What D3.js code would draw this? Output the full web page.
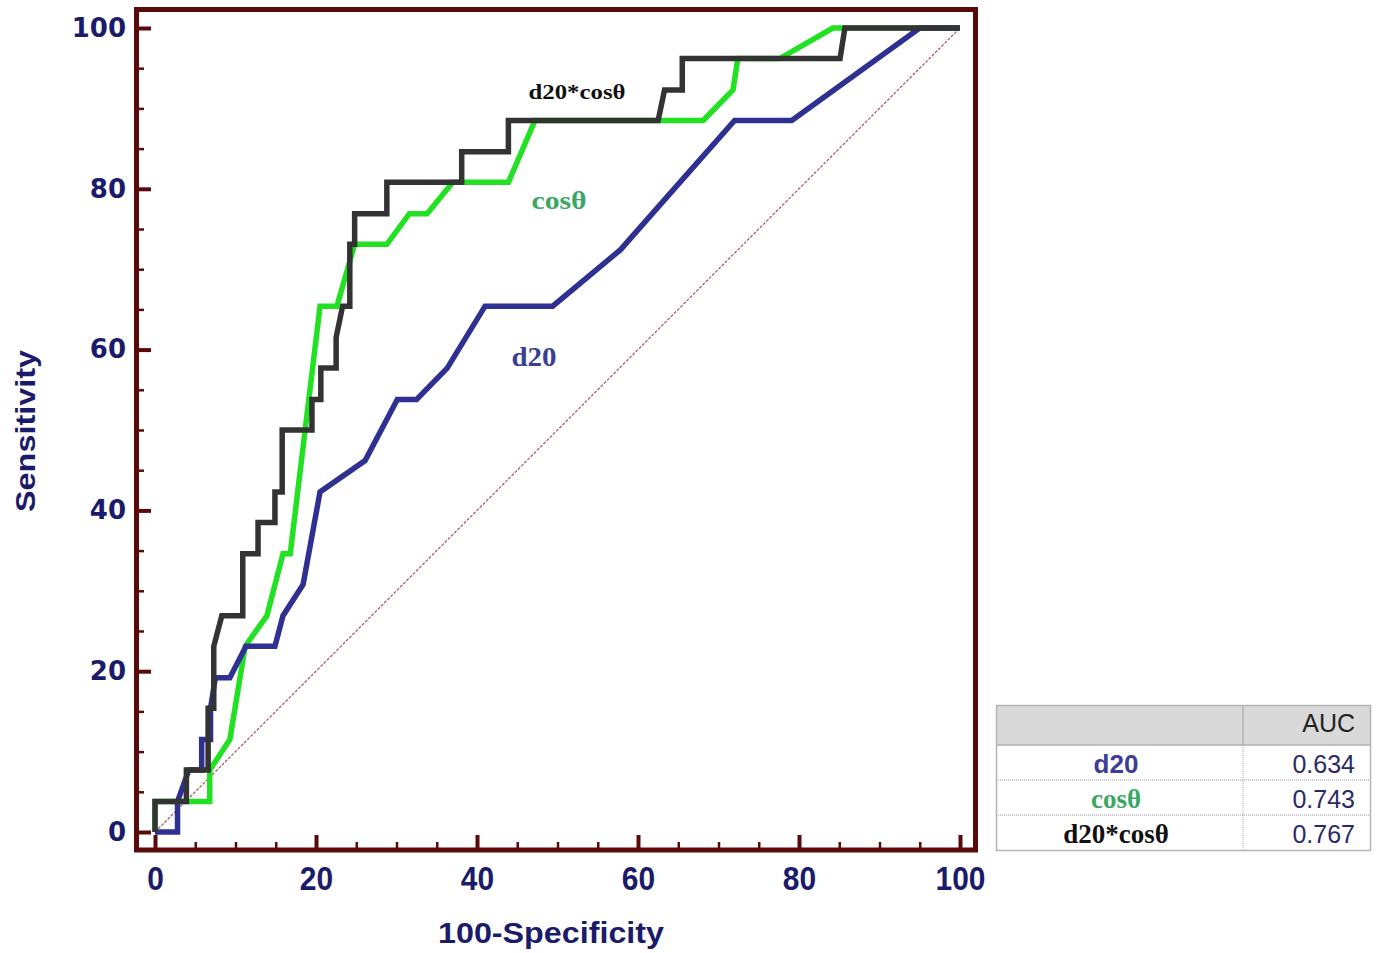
<!DOCTYPE html>
<html>
<head>
<meta charset="utf-8">
<script src="https://cdn.jsdelivr.net/npm/d3@7"></script>
<style>
  body { margin: 0; background: #fff; }
  svg { display: block; }
</style>
</head>
<body>
<svg id="chart" width="1377" height="953"></svg>
<script>
// ---- data ----
const d20Fpr = [0, 2.8, 2.8, 4.2, 5.8, 5.8, 6.9, 6.9, 7.5, 9.3, 11.3, 14.9, 15.9, 18.4, 20.5, 26.1, 30.1, 32.5, 36.3, 41, 49.4, 57.8, 65.2, 72, 79.1, 95, 100];
const d20Tpr = [0, 0, 3.8, 7.7, 7.7, 11.5, 11.5, 15.4, 19.2, 19.2, 23.1, 23.1, 26.9, 30.8, 42.3, 46.2, 53.8, 53.8, 57.7, 65.4, 65.4, 72.4, 80.8, 88.5, 88.5, 100, 100];

const cosFpr = [0, 0, 6.8, 6.8, 9.3, 11.2, 13.9, 15.9, 16.8, 20.5, 22.6, 24.8, 28.8, 31.6, 33.8, 37, 43.9, 47.2, 68.1, 71.8, 72.4, 77.6, 84.2, 100];
const cosTpr = [0, 3.8, 3.8, 7.7, 11.5, 23.1, 26.9, 34.6, 34.6, 65.4, 65.4, 73.1, 73.1, 76.9, 76.9, 80.8, 80.8, 88.5, 88.5, 92.3, 96.2, 96.2, 100, 100];

const prodFpr = [0, 0, 3.9, 3.9, 6.6, 6.6, 7.3, 7.3, 8.3, 10.9, 10.9, 12.8, 12.8, 14.9, 14.9, 15.8, 15.8, 19.5, 19.5, 20.6, 20.6, 22.5, 22.5, 23.3, 24.2, 24.2, 24.8, 24.8, 28.8, 28.8, 38.1, 38.1, 43.9, 43.9, 62.5, 63.3, 65.5, 65.5, 85.1, 85.7, 100];
const prodTpr = [0, 3.8, 3.8, 7.7, 7.7, 15.4, 15.4, 23.1, 26.9, 26.9, 34.6, 34.6, 38.5, 38.5, 42.3, 42.3, 50, 50, 53.8, 53.8, 57.7, 57.7, 61.5, 65.4, 65.4, 73.1, 73.1, 76.9, 76.9, 80.8, 80.8, 84.6, 84.6, 88.5, 88.5, 92.3, 92.3, 96.2, 96.2, 100, 100];

const majorTicks = [0, 20, 40, 60, 80, 100];
const minorTicks = d3.range(0, 101, 5);

const tableNames = ["d20", "cosθ", "d20*cosθ"];
const tableAuc = ["0.634", "0.743", "0.767"];

// ---- look ----
const frameCol = "#5a0a0a";
const navy = "#1b1b6b";
const serif = "'Liberation Serif', 'Times New Roman', serif";
const sans = "'Liberation Sans', Arial, sans-serif";

const svg = d3.select("#chart");

const x = d3.scaleLinear().domain([0, 100]).range([155, 960]);
const y = d3.scaleLinear().domain([0, 100]).range([832, 28]);

// frame
svg.append("rect")
  .attr("x", 136.5).attr("y", 9.5)
  .attr("width", 839).attr("height", 840.5)
  .attr("fill", "#fff")
  .attr("stroke", frameCol)
  .attr("stroke-width", 5);

// minor ticks
const yMinor = svg.append("g").attr("transform", "translate(138,0)")
  .call(d3.axisLeft(y).tickValues(minorTicks).tickSize(-6).tickFormat(""));
const xMinor = svg.append("g").attr("transform", "translate(0,848)")
  .call(d3.axisBottom(x).tickValues(minorTicks).tickSize(-6).tickFormat(""));
[yMinor, xMinor].forEach(g => {
  g.select(".domain").remove();
  g.selectAll("line").attr("stroke", frameCol).attr("stroke-width", 2.5);
});

// major ticks + labels
const yAxis = svg.append("g").attr("transform", "translate(138,0)")
  .call(d3.axisLeft(y).tickValues(majorTicks).tickSize(-13).tickPadding(12));
const xAxis = svg.append("g").attr("transform", "translate(0,848)")
  .call(d3.axisBottom(x).tickValues(majorTicks).tickSize(-13).tickPadding(18));
[yAxis, xAxis].forEach(g => {
  g.select(".domain").remove();
  g.selectAll("line").attr("stroke", frameCol).attr("stroke-width", 4);
  g.selectAll("text").attr("fill", navy).attr("font-weight", "bold");
});
yAxis.selectAll("text")
  .attr("font-family", "'DejaVu Sans', Verdana, sans-serif")
  .attr("font-size", 26);
xAxis.selectAll("text")
  .attr("font-family", sans)
  .attr("font-size", 34)
  .attr("transform", "scale(0.88,1)");

// axis titles
svg.append("text")
  .attr("x", 551).attr("y", 943)
  .attr("text-anchor", "middle")
  .attr("font-family", sans).attr("font-weight", "bold").attr("font-size", 30)
  .attr("fill", navy)
  .attr("textLength", 226).attr("lengthAdjust", "spacingAndGlyphs")
  .text("100-Specificity");

svg.append("text")
  .attr("transform", "translate(35,431) rotate(-90)")
  .attr("text-anchor", "middle")
  .attr("font-family", sans).attr("font-weight", "bold").attr("font-size", 27)
  .attr("fill", navy)
  .attr("textLength", 162).attr("lengthAdjust", "spacingAndGlyphs")
  .text("Sensitivity");

// chance diagonal
svg.append("line")
  .attr("x1", x(0)).attr("y1", y(0))
  .attr("x2", x(100)).attr("y2", y(100))
  .attr("stroke", "#9a5a5a")
  .attr("stroke-width", 1.2)
  .attr("stroke-dasharray", "3,1.5");

// curves
const line = d3.line().x(d => x(d[0])).y(d => y(d[1]));
const curves = [
  { fpr: cosFpr, tpr: cosTpr, color: "#22e022" },
  { fpr: d20Fpr, tpr: d20Tpr, color: "#2e3192" },
  { fpr: prodFpr, tpr: prodTpr, color: "#333333" }
];
curves.forEach(c => {
  svg.append("path")
    .datum(c.fpr.map((f, i) => [f, c.tpr[i]]))
    .attr("d", line)
    .attr("fill", "none")
    .attr("stroke", c.color)
    .attr("stroke-width", 5.5)
    .attr("stroke-linejoin", "miter");
});

// curve labels
svg.append("text").attr("x", 577).attr("y", 99)
  .attr("text-anchor", "middle")
  .attr("font-family", serif).attr("font-weight", "bold").attr("font-size", 22)
  .attr("textLength", 97).attr("lengthAdjust", "spacingAndGlyphs")
  .attr("fill", "#111").text("d20*cosθ");
svg.append("text").attr("x", 559).attr("y", 209)
  .attr("text-anchor", "middle")
  .attr("font-family", serif).attr("font-weight", "bold").attr("font-size", 26)
  .attr("textLength", 55).attr("lengthAdjust", "spacingAndGlyphs")
  .attr("fill", "#3aa864").text("cosθ");
svg.append("text").attr("x", 534).attr("y", 366)
  .attr("text-anchor", "middle")
  .attr("font-family", serif).attr("font-weight", "bold").attr("font-size", 27)
  .attr("textLength", 45).attr("lengthAdjust", "spacingAndGlyphs")
  .attr("fill", "#3a3e95").text("d20");

// ---- AUC table ----
const tb = { x0: 996, x1: 1370, xm: 1243, top: 705, head: 745, rowH: 35 };
const tbl = svg.append("g");
tbl.append("rect")
  .attr("x", tb.x0).attr("y", tb.top)
  .attr("width", tb.x1 - tb.x0).attr("height", tb.head - tb.top)
  .attr("fill", "#d9d9d9");
tbl.append("rect")
  .attr("x", tb.x0 + 0.5).attr("y", tb.top + 0.5)
  .attr("width", tb.x1 - tb.x0).attr("height", tb.head - tb.top + tb.rowH * 3)
  .attr("fill", "none").attr("stroke", "#b5b5b5").attr("stroke-width", 1.5);
tbl.append("line")
  .attr("x1", tb.xm).attr("x2", tb.xm).attr("y1", tb.top).attr("y2", tb.head)
  .attr("stroke", "#b0b0b0").attr("stroke-width", 1.5);
tbl.append("line")
  .attr("x1", tb.x0).attr("x2", tb.x1).attr("y1", tb.head).attr("y2", tb.head)
  .attr("stroke", "#b0b0b0").attr("stroke-width", 1.5);
tbl.append("line")
  .attr("x1", tb.xm).attr("x2", tb.xm).attr("y1", tb.head).attr("y2", tb.head + tb.rowH * 3)
  .attr("stroke", "#aaa").attr("stroke-dasharray", "1,1");
[1, 2].forEach(i => {
  tbl.append("line")
    .attr("x1", tb.x0).attr("x2", tb.x1)
    .attr("y1", tb.head + tb.rowH * i).attr("y2", tb.head + tb.rowH * i)
    .attr("stroke", "#999").attr("stroke-dasharray", "1,1");
});
tbl.append("text")
  .attr("x", 1355).attr("y", 732)
  .attr("text-anchor", "end")
  .attr("font-family", sans).attr("font-size", 25).attr("fill", "#222")
  .text("AUC");

const nameStyle = [
  { font: sans, weight: "bold", color: "#3c3c9a", size: 26 },
  { font: serif, weight: "bold", color: "#3aa864", size: 27 },
  { font: serif, weight: "bold", color: "#111", size: 27 }
];
tableNames.forEach((n, i) => {
  const base = tb.head + tb.rowH * i + 28;
  const st = nameStyle[i];
  tbl.append("text")
    .attr("x", 1116).attr("y", base)
    .attr("text-anchor", "middle")
    .attr("font-family", st.font).attr("font-weight", st.weight)
    .attr("font-size", st.size).attr("fill", st.color)
    .text(n);
  tbl.append("text")
    .attr("x", 1355).attr("y", base)
    .attr("text-anchor", "end")
    .attr("font-family", sans).attr("font-size", 25).attr("fill", "#2a2a66")
    .text(tableAuc[i]);
});
</script>
</body>
</html>
